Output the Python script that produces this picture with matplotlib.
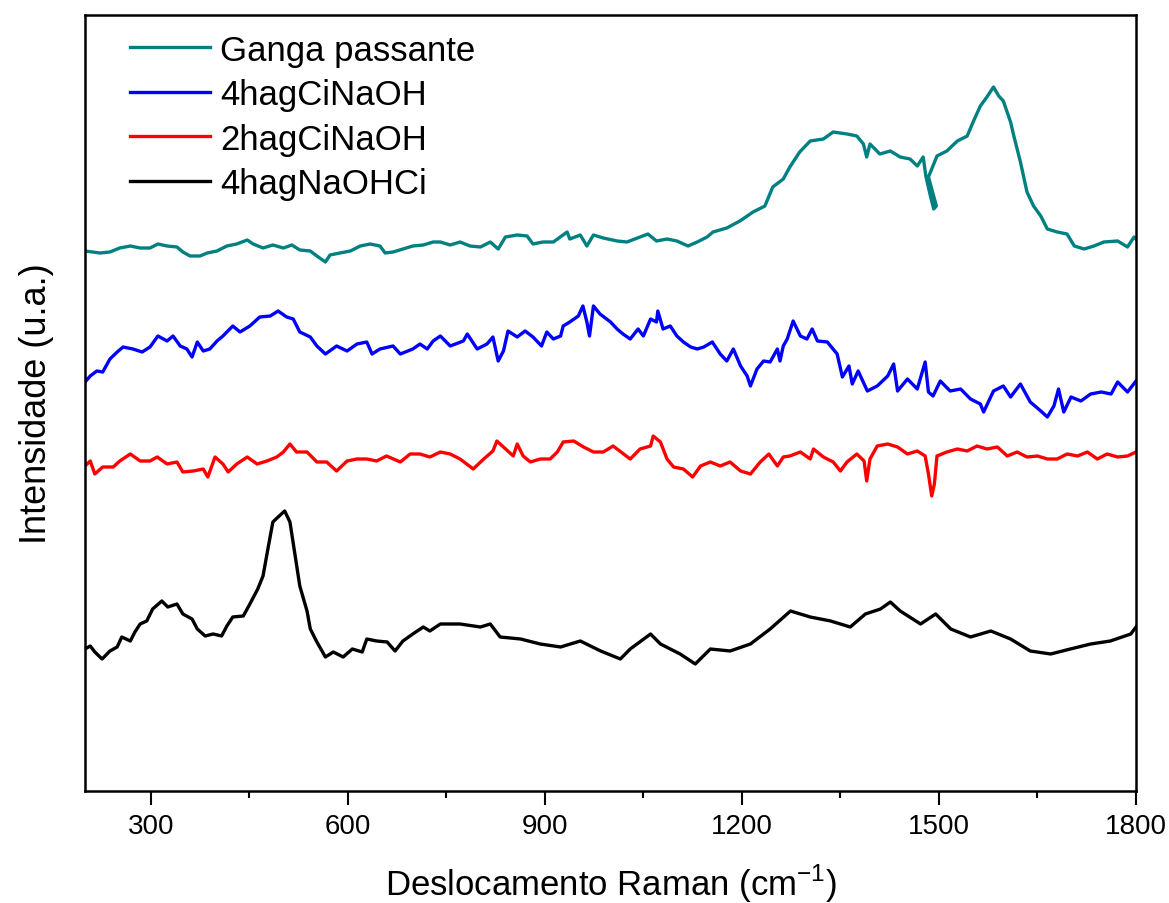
import matplotlib.pyplot as plt
from matplotlib.ticker import MultipleLocator

plt.rcParams['font.family'] = ['Liberation Sans', 'DejaVu Sans']
plt.rcParams['mathtext.fontset'] = 'custom'
plt.rcParams['mathtext.rm'] = 'Liberation Sans'

# Raman shift (cm-1) and intensity (a.u., offset traces)
ganga_x = [200, 223, 238, 253, 269, 284, 299, 311, 325, 340, 349, 360, 375, 386, 401, 416, 431, 447, 456, 471,
           486, 502, 515, 527, 543, 553, 566, 573, 588, 604, 619, 634, 649, 657, 669, 684, 699, 715, 730, 741,
           756, 771, 786, 802, 817, 829, 840, 858, 873, 882, 897, 913, 934, 938, 954, 964, 974, 989, 1010, 1025,
           1041, 1057, 1070, 1086, 1101, 1118, 1132, 1147, 1156, 1177, 1197, 1217, 1235, 1247, 1263, 1273, 1288,
           1304, 1324, 1339, 1360, 1375, 1385, 1390, 1395, 1410, 1426, 1441, 1456, 1467, 1476, 1480, 1487, 1492,
           1496, 1484, 1497, 1512, 1528, 1543, 1552, 1563, 1573, 1583, 1591, 1598, 1609, 1614, 1624, 1634, 1644,
           1655, 1665, 1680, 1695, 1706, 1721, 1736, 1751, 1772, 1787, 1797, 1800]
ganga_y = [548, 546, 547, 551, 553, 551, 551, 555, 553, 552, 547, 543, 543, 546, 548, 553, 555, 559, 555, 551,
           554, 551, 554, 549, 548, 543, 537, 544, 546, 548, 553, 555, 553, 546, 547, 550, 553, 554, 557, 557,
           554, 557, 553, 552, 557, 550, 562, 564, 563, 555, 557, 557, 567, 560, 564, 553, 564, 561, 558, 557,
           561, 565, 558, 560, 558, 553, 557, 562, 567, 571, 578, 587, 593, 612, 620, 632, 647,
           658, 660, 667, 665, 663, 655, 642, 655, 645, 648, 642, 640, 633, 642, 623, 603, 590,
           593, 622, 643, 648, 658, 663, 677, 693, 702, 712, 703, 698, 677, 663, 637, 607, 593,
           583, 570, 567, 565, 553, 550, 553, 557, 558, 552, 562, 560]

naoh4_x = [200, 208, 218, 227, 238, 249, 258, 273, 287, 299, 311, 325, 334, 345, 355, 363, 371, 380, 390, 401,
           410, 425, 436, 451, 466, 482, 494, 507, 517, 527, 543, 553, 566, 583, 599, 614, 629, 637, 649, 669,
           680, 699, 710, 721, 730, 741, 756, 776, 782, 797, 812, 821, 829, 837, 844, 858, 870, 882, 895, 903,
           913, 924, 928, 938, 951, 958, 964, 968, 974, 984, 1000, 1010, 1019, 1030, 1042, 1050, 1061, 1070,
           1072, 1080, 1091, 1101, 1111, 1122, 1132, 1142, 1155, 1167, 1177, 1187, 1198, 1208, 1213, 1223,
           1233, 1243, 1254, 1258, 1263, 1269, 1278, 1289, 1299, 1307, 1315, 1330, 1345, 1353, 1363, 1368,
           1377, 1391, 1406, 1422, 1431, 1437, 1452, 1467, 1479, 1484, 1491, 1502, 1517, 1533, 1548, 1563,
           1568, 1583, 1598, 1609, 1624, 1639, 1655, 1665, 1675, 1682, 1690, 1701, 1716, 1731, 1747, 1762,
           1772, 1787, 1800]
naoh4_y = [417, 423, 428, 427, 440, 447, 452, 450, 447, 452, 463, 458, 463, 453, 450, 442, 457, 448, 450, 458,
           463, 473, 467, 473, 482, 483, 488, 482, 480, 467, 462, 453, 445, 453, 448, 455, 457, 445, 450, 453,
           445, 450, 455, 450, 458, 463, 453, 458, 465, 450, 455, 462, 438, 448, 468, 462, 468, 462, 453, 467,
           460, 463, 473, 477, 483, 493, 477, 463, 493, 485, 477, 470, 465, 460, 470, 463, 480, 477,
           488, 470, 473, 463, 457, 452, 450, 452, 457, 445, 438, 450, 433, 423, 413, 430,
           438, 437, 450, 438, 453, 460, 478, 463, 460, 470, 458, 457, 445, 422, 433, 415,
           428, 408, 413, 423, 435, 408, 420, 410, 437, 407, 403, 418, 408, 410, 400, 395,
           387, 408, 413, 402, 415, 397, 388, 382, 393, 410, 387, 402, 398, 405, 407, 405,
           417, 407, 418]

naoh2_x = [200, 208, 215, 227, 243, 253, 269, 284, 299, 310, 325, 340, 349, 365, 380, 387, 398, 410, 418, 431,
           447, 462, 477, 492, 502, 512, 522, 538, 553, 568, 583, 599, 614, 629, 644, 659, 680, 695, 710, 725,
           741, 756, 771, 791, 807, 821, 827, 837, 852, 858, 867, 878, 893, 908, 919, 928, 944, 959, 974, 989,
           1004, 1016, 1030, 1045, 1061, 1065, 1076, 1086, 1096, 1111, 1125, 1137, 1152, 1167, 1182, 1198,
           1213, 1228, 1241, 1254, 1263, 1273, 1289, 1304, 1309, 1324, 1339, 1350, 1360, 1375, 1386, 1390,
           1395, 1406, 1422, 1437, 1452, 1467, 1479, 1484, 1489, 1493, 1497, 1512, 1528, 1543, 1558, 1573,
           1589, 1604, 1619, 1634, 1650, 1665, 1680, 1695, 1711, 1726, 1741, 1756, 1772, 1787, 1800]
naoh2_y = [333, 338, 325, 332, 332, 338, 345, 338, 338, 342, 335, 337, 327, 328, 330, 322, 342, 335, 327, 335,
           342, 335, 338, 342, 347, 355, 347, 347, 337, 337, 328, 338, 340, 340, 338, 343, 337, 345, 345, 342,
           347, 345, 340, 330, 340, 348, 358, 352, 343, 355, 343, 337, 340, 340, 347, 357, 358, 352, 347, 347,
           353, 347, 340, 350, 353, 363, 357, 340, 332, 330, 322, 333, 337, 333, 337, 328,
           325, 337, 345, 333, 342, 343, 347, 340, 350, 342, 337, 328, 337, 345, 338, 318,
           340, 353, 355, 352, 345, 348, 343, 325, 303, 315, 343, 347, 350, 348, 353, 350,
           352, 343, 347, 342, 343, 340, 340, 345, 343, 347, 340, 345, 342, 343, 347]

ci4_x = [200, 208, 215, 226, 238, 249, 256, 269, 276, 284, 294, 303, 317, 326, 340, 349, 363, 371, 383, 395,
         408, 416, 425, 441, 451, 463, 471, 479, 486, 494, 504, 512, 520, 527, 538, 543, 553, 566, 578, 593,
         607, 622, 629, 644, 660, 672, 684, 699, 715, 725, 741, 771, 802, 817, 832, 863, 893, 924, 954, 985,
         1015, 1030, 1061, 1076, 1106, 1129, 1152, 1182, 1213, 1243, 1274, 1304, 1335, 1365, 1388, 1411,
         1426, 1441, 1472, 1495, 1518, 1548, 1579, 1609, 1639, 1670, 1700, 1731, 1761, 1792, 1800]
ci4_y = [150, 153, 147, 140, 148, 152, 162, 158, 167, 175, 178, 190, 198, 192, 195, 185, 180, 170, 163, 165,
         163, 173, 182, 183, 195, 210, 223, 252, 277, 282, 288, 277, 243, 213, 188, 170, 157, 142, 147, 142,
         150, 147, 160, 158, 157, 148, 158, 165, 172, 168, 175, 175, 172, 175, 162, 160, 155, 152, 158, 148,
         140, 150, 165, 155, 145, 135, 150, 148, 155, 170, 188, 182, 178, 172, 185, 190,
         197, 188, 175, 185, 170, 162, 168, 160, 148, 145, 150, 155, 158, 165, 172]

series = [
    (ganga_x, ganga_y, 'Ganga passante', '#008080'),
    (naoh4_x, naoh4_y, '4hagCiNaOH', '#0000ff'),
    (naoh2_x, naoh2_y, '2hagCiNaOH', '#ff0000'),
    (ci4_x, ci4_y, '4hagNaOHCi', '#000000'),
]

fig = plt.figure(figsize=(11.69, 9.04), dpi=100)
ax = fig.add_axes([0.0727, 0.1239, 0.8991, 0.8584])

for x, y, label, color in series:
    ax.plot(x, y, color=color, lw=2.4, label=label)

ax.set_xlim(200, 1800)
ax.set_ylim(8, 784)
ax.xaxis.set_major_locator(MultipleLocator(300))
ax.xaxis.set_minor_locator(MultipleLocator(150))
ax.set_xticks([300, 600, 900, 1200, 1500, 1800])
ax.tick_params(axis='x', which='major', direction='out', length=10, width=1.5, labelsize=20, pad=6)
ax.tick_params(axis='x', which='minor', direction='out', length=5, width=1.5)
ax.set_yticks([])
for s in ax.spines.values():
    s.set_linewidth(1.8)

ax.set_xlabel(r'Deslocamento Raman (cm$^{\mathregular{-1}}$)', fontsize=25, labelpad=16)
ax.set_ylabel('Intensidade (u.a.)', fontsize=26, labelpad=22)

ax.legend(loc='upper left', bbox_to_anchor=(0.043, 0.976), frameon=False, fontsize=25,
          handlelength=2.3, handletextpad=0.29, labelspacing=0.33, borderpad=0, borderaxespad=0)

plt.savefig('out.png', dpi=100)
